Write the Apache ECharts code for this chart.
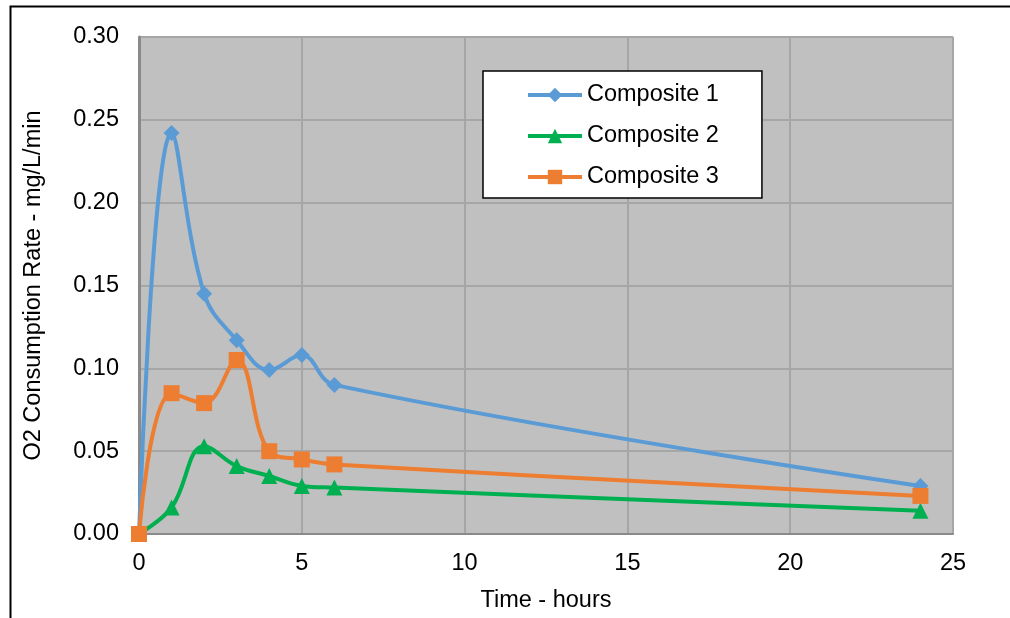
<!DOCTYPE html>
<html>
<head>
<meta charset="utf-8">
<script src="https://cdn.jsdelivr.net/npm/echarts@6/dist/echarts.min.js"></script>
<style>
  html, body { margin: 0; padding: 0; background: #fff; }
  #chart { width: 1010px; height: 618px; }
</style>
</head>
<body>
<div id="chart"></div>
<script>
// hours since start
const hours = [0, 1, 2, 3, 4, 5, 6, 24];

// O2 consumption rate, mg/L/min
const composite1 = [0, 0.242, 0.145, 0.117, 0.099, 0.108, 0.090, 0.029];
const composite2 = [0, 0.016, 0.053, 0.041, 0.035, 0.029, 0.028, 0.014];
const composite3 = [0, 0.085, 0.079, 0.105, 0.050, 0.045, 0.042, 0.023];

const seriesNames = ['Composite 1', 'Composite 2', 'Composite 3'];
const seriesColors = ['#5b9bd5', '#00b050', '#ed7d31'];

const font = 'Arial, "Liberation Sans", sans-serif';
const fontSize = 23.5;

const chart = echarts.init(document.getElementById('chart'));

const pairs = (ys) => hours.map((h, i) => [h, ys[i]]);

const makeSeries = (name, ys, color, symbol, size) => ({
    name: name,
    type: 'line',
    data: pairs(ys),
    smooth: 0.4,
    symbol: symbol,
    symbolSize: size,
    showAllSymbol: true,
    lineStyle: {color: color, width: 4},
    itemStyle: {color: color},
    emphasis: {disabled: true},
    z: 3
});

const option = {
    animation: false,
    backgroundColor: '#fff',
    textStyle: {fontFamily: font},
    grid: {
        left: 139, right: 57, top: 37, bottom: 84,
        show: true,
        backgroundColor: '#c0c0c0',
        borderWidth: 0
    },
    legend: {
        orient: 'vertical',
        left: 483,
        top: 71,
        padding: [12, 43, 9, 43],
        itemGap: 17,
        itemWidth: 54,
        itemHeight: 18,
        backgroundColor: '#fff',
        borderColor: '#000',
        borderWidth: 1.5,
        lineStyle: {width: 4},
        textStyle: {fontSize: fontSize, color: '#000', fontFamily: font},
        data: seriesNames
    },
    xAxis: [{
        type: 'value',
        min: 0, max: 25, interval: 5,
        name: 'Time - hours',
        nameLocation: 'middle',
        nameGap: 55,
        nameTextStyle: {fontSize: fontSize, color: '#000', fontFamily: font},
        axisLine: {show: false},
        axisTick: {show: false},
        axisLabel: {fontSize: fontSize, color: '#000', margin: 18, fontFamily: font},
        splitLine: {show: true, lineStyle: {color: '#a6a6a6', width: 2}}
    }, {
        type: 'value',
        position: 'top',
        min: 0, max: 25, interval: 5,
        axisLine: {show: true, lineStyle: {color: '#8a8a8a', width: 2}},
        axisTick: {show: false},
        axisLabel: {show: false},
        splitLine: {show: false}
    }],
    yAxis: [{
        type: 'value',
        min: 0, max: 0.30, interval: 0.05,
        name: 'O2 Consumption Rate - mg/L/min',
        nameLocation: 'middle',
        nameGap: 93,
        nameTextStyle: {fontSize: fontSize, color: '#000', fontFamily: font},
        axisLine: {show: false},
        axisTick: {show: false},
        axisLabel: {
            fontSize: fontSize, color: '#000', margin: 20, fontFamily: font,
            padding: [4, 0, 0, 0],
            formatter: (v) => v.toFixed(2)
        },
        splitLine: {show: true, lineStyle: {color: '#a6a6a6', width: 2}}
    }, {
        type: 'value',
        position: 'right',
        min: 0, max: 0.30, interval: 0.05,
        axisLine: {show: true, lineStyle: {color: '#8a8a8a', width: 3}},
        axisTick: {show: false},
        axisLabel: {show: false},
        splitLine: {show: false}
    }],
    series: [
        makeSeries(seriesNames[0], composite1, seriesColors[0], 'diamond', 16),
        makeSeries(seriesNames[1], composite2, seriesColors[1], 'triangle', 16),
        makeSeries(seriesNames[2], composite3, seriesColors[2], 'rect', 16)
    ],
    graphic: [{
        type: 'rect',
        left: 8, top: 4,
        shape: {width: 1200, height: 800},
        style: {fill: null, stroke: '#000', lineWidth: 2},
        silent: true,
        z: 100
    }]
};

chart.setOption(option);
</script>
</body>
</html>
